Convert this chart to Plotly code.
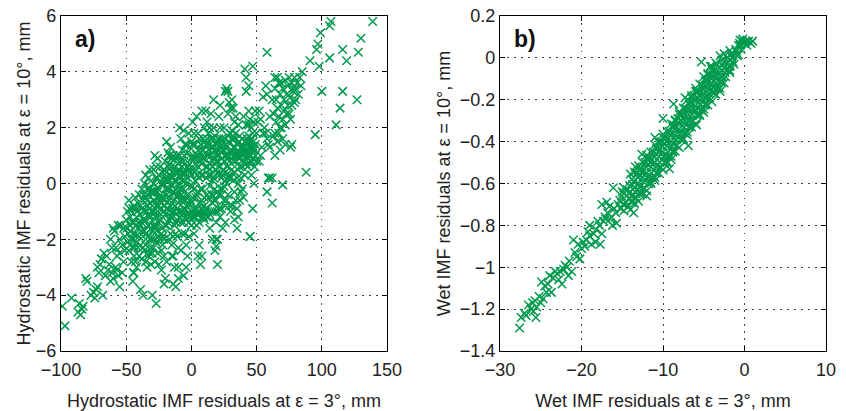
import plotly.graph_objects as go

# ---------------- data ----------------
hydro_pts = [
    # far lower-left tail
    (-99, -4.4), (-97, -5.1), (-92, -4.1), (-87, -4.6), (-85, -4.7), (-86, -4.3), (-83, -4.4),
    (-81, -3.4), (-80, -3.5), (-84, -4.5), (-77, -4.0), (-75, -3.9), (-73, -3.8), (-72, -3.7),
    (-71, -3.2), (-70, -2.9), (-74, -4.1), (-72, -3.0),
    (-68, -4.0), (-67, -2.5), (-65, -2.6), (-64, -3.1), (-63, -2.9), (-62, -3.5), (-61, -2.3),
    (-60, -3.4), (-60, -1.6), (-62, -2.0), (-66, -3.3), (-69, -2.7), (-61, -3.2),
    (-58, -3.0), (-57, -3.1), (-56, -3.3), (-55, -3.7), (-57, -2.6), (-55, -2.5), (-53, -2.2),
    (-52, -1.6), (-51, -1.9), (-54, -1.5), (-59, -1.7), (-56, -1.5), (-58, -2.3), (-52, -2.8),
    (-50, -1.3), (-53, -3.2), (-55, -2.0), (-51, -2.4),
    # column -50..-40
    (-49, -1.0), (-48, -0.6), (-47, -1.5), (-46, -2.0), (-45, -2.3), (-44, -2.6), (-43, -1.8),
    (-42, -1.2), (-41, -0.7), (-40, -0.4), (-48, -2.4), (-46, -2.8), (-44, -3.2), (-42, -2.1),
    (-41, -1.6), (-47, -1.2), (-45, -0.9), (-43, -0.5), (-40, -1.9), (-44, -1.4), (-49, -2.1),
    (-40, -2.6), (-42, -3.0), (-45, -3.5),
    (-49.5, -1.6), (-48.5, -1.8), (-47.5, -0.9), (-46.5, -1.7), (-45.5, -1.4), (-44.5, -2.0),
    (-43.5, -2.3), (-42.5, -1.5), (-41.5, -1.0), (-40.5, -1.4), (-43, -0.9), (-47, -2.2),
    (-45, -1.8), (-44, -0.8), (-43, -2.8), (-41, -2.3),
    # column -40..-30
    (-39, -3.8), (-37, -4.0), (-38, -0.2), (-36, 0.0), (-35, -0.5), (-34, -1.0), (-33, -1.5),
    (-32, -2.0), (-31, -2.3), (-30, -0.3), (-39, -0.8), (-38, -1.4), (-37, -1.9), (-36, -2.4),
    (-35, -2.8), (-34, -0.2), (-33, 0.2), (-32, -0.7), (-31, -1.2), (-30, -1.7), (-39, -2.2),
    (-36, -1.0), (-34, -3.0), (-31, -2.9), (-30, -2.5), (-37, -0.6), (-33, -2.6), (-35, 0.3),
    (-39.5, -1.1), (-38.5, -1.7), (-37.5, -2.3), (-36.5, -0.4), (-35.5, -1.3), (-34.5, -1.8),
    (-33.5, -0.8), (-32.5, -1.2), (-31.5, -0.3), (-30.5, -1.0), (-38, -2.7), (-32, -2.5),
    (-36, -1.7), (-34, -0.6), (-44.5, -3.2), (-32, 0.5),
    (-39, -1.5), (-38, -0.9), (-37, -1.3), (-35, -2.2), (-33, -1.9), (-31, -1.6), (-30, -2.0),
    (-34, -0.4), (-33, -1.1), (-32, -0.2), (-31, 0.1), (-30, -0.8),
    # column -30..-20
    (-30, -4.0), (-27, -4.3), (-29, 0.5), (-28, 1.0), (-27, 0.2), (-26, -0.3), (-25, -0.8),
    (-24, -1.3), (-23, -1.8), (-22, -2.2), (-21, -2.6), (-20, -3.4), (-21, -3.6), (-29, -1.0),
    (-28, -1.6), (-27, -2.1), (-26, -2.5), (-25, -2.9), (-24, 0.6), (-23, 0.0), (-22, -0.5),
    (-21, -1.0), (-20, -1.5), (-29, -2.3), (-26, 0.9), (-24, -2.0), (-22, 0.4), (-20, -0.2),
    (-28, -2.8), (-23, -3.1), (-25, 0.3), (-21, -2.0),
    (-29.5, -0.3), (-28.5, -0.6), (-27.5, -1.2), (-26.5, -1.7), (-25.5, -0.2), (-24.5, -0.6),
    (-23.5, -1.1), (-22.5, -1.6), (-21.5, 0.0), (-20.5, -0.8), (-27, 0.6), (-23, -2.4),
    (-25, -1.4), (-29, -1.5),
    (-29, -0.6), (-28, -2.0), (-27, -0.8), (-26, -1.1), (-25, -1.9), (-24, -0.9), (-23, -0.5),
    (-22, -1.9), (-21, 0.5), (-20, -1.1),
    (-29, 0.0), (-28, -0.3), (-27, -1.5), (-26, 0.2), (-25, -0.5), (-24, 0.1), (-23, -0.7),
    (-22, 0.0), (-21, -0.6), (-20, 0.2),
    # column -20..-10
    (-19, 1.5), (-18, 1.1), (-17, 0.7), (-16, 0.3), (-15, -0.1), (-14, -0.6), (-13, -1.0),
    (-12, -1.4), (-11, -1.9), (-10, -2.3), (-19, -0.4), (-18, -0.9), (-17, -1.3), (-16, -1.8),
    (-15, -2.2), (-14, -2.6), (-13, -3.0), (-12, 0.9), (-11, 0.4), (-10, 0.0), (-19, -2.8),
    (-14, -3.6), (-10, -3.4), (-12, -3.7), (-18, 0.2), (-16, 1.3), (-13, 0.6), (-11, -0.5),
    (-15, -1.2), (-20, 0.8), (-17, -2.0), (-10, -1.0),
    (-19.5, 0.4), (-18.5, -0.2), (-17.5, 0.1), (-16.5, -0.5), (-15.5, 0.6), (-14.5, 0.2),
    (-13.5, -0.3), (-12.5, -0.8), (-11.5, 0.1), (-10.5, -0.4), (-17, 1.0), (-14, 1.0),
    (-12, -1.8), (-19, -1.5), (-15, -2.6), (-11, -1.3),
    (-19, 0.1), (-18, -1.4), (-17, -0.6), (-16, -1.2), (-15, 0.9), (-14, -1.9), (-13, -1.5),
    (-12, 0.4), (-11, 1.0), (-10, 0.7),
    (-19, -0.9), (-18, 0.6), (-17, -0.2), (-16, -0.8), (-15, 0.4), (-14, -0.3), (-13, 0.1),
    (-12, -0.2), (-11, -0.9), (-10, 0.4), (-14, -1.0), (-12, -1.1), (-10, -0.7),
    # column -10..0
    (-9, 2.0), (-8, 1.6), (-7, 1.2), (-6, 0.8), (-5, 0.4), (-4, 0.0), (-3, -0.4), (-2, -0.8),
    (-1, -1.2), (0, -1.5), (-9, -0.2), (-8, -0.6), (-7, -1.0), (-6, -1.4), (-5, -1.8),
    (-4, -2.2), (-3, -2.6), (-2, 1.8), (-1, 1.3), (0, 0.9), (-9, 1.0), (-7, 0.1), (-5, -0.9),
    (-3, 0.6), (-1, -0.1), (-10, -3.0), (-6, -3.3), (-4, -3.0), (-8, -2.4), (-2, -1.9),
    (0, 0.3), (-6, 1.9),
    (-9.5, 0.5), (-8.5, 0.2), (-7.5, -0.4), (-6.5, 0.4), (-5.5, 1.0), (-4.5, -0.6),
    (-3.5, -1.1), (-2.5, 0.2), (-1.5, 0.7), (-0.5, -0.6), (-8, -1.4), (-4, 1.4), (-2, -1.4),
    (-6, -0.2), (0, -1.0), (-7, -1.8),
    (-9, -1.2), (-8, 0.8), (-7, -0.5), (-6, 0.3), (-5, 1.4), (-4, -1.3), (-3, 1.1), (-2, 0.5),
    (-1, 0.4), (0, 1.5),
    (-9, 0.3), (-8, -0.2), (-7, 0.6), (-6, -0.6), (-5, 0.1), (-8, -1.0), (-6, -1.1),
    (-4, -0.8), (-2, -1.1), (0, -0.7),
    # column 0..10
    (1, 2.2), (2, 1.8), (3, 1.4), (4, 1.0), (5, 0.6), (6, 0.2), (7, -0.2), (8, -0.6),
    (9, -1.0), (10, -1.3), (1, -0.5), (2, -0.9), (3, -1.2), (4, -1.5), (5, -1.1), (6, -0.7),
    (7, 0.8), (8, 1.2), (9, 1.6), (10, 2.0), (1, 0.5), (3, 0.1), (5, -0.3), (9, 0.3),
    (2, -1.8), (6, -2.2), (8, -2.6), (5, -2.6), (7, -2.9), (4, 2.4), (8, 2.6), (10, -0.5),
    (0.5, 1.4), (1.5, 1.0), (2.5, 0.4), (3.5, -0.5), (4.5, 0.3), (5.5, 1.2), (6.5, -1.0),
    (7.5, 0.3), (8.5, -0.2), (9.5, -1.2), (2, -0.2), (6, 1.6), (10, 0.9), (4, -0.9),
    (8, 0.7), (1, -1.2),
    (1, -0.1), (2, 0.9), (3, 0.7), (4, -0.4), (5, 1.8), (6, -1.4), (7, 1.4), (8, -1.2),
    (9, 0.9), (10, -0.8),
    (5, 1.0), (7, 1.1), (9, 1.2), (2, -1.2), (4, -1.1), (6, -1.1), (8, -0.9), (10, -1.0),
    # column 10..20
    (11, 2.6), (12, 2.2), (13, 1.8), (14, 1.4), (15, 1.0), (16, 0.6), (17, 0.2), (18, -0.2),
    (19, -0.6), (20, -1.0), (11, -0.9), (12, -1.2), (13, -0.5), (14, -0.1), (15, 0.3),
    (16, 1.6), (17, 2.0), (18, 1.2), (19, 0.8), (20, 0.4), (12, 1.0), (14, -1.6), (16, -2.0),
    (18, -2.4), (19, -2.0), (20, -2.9), (17, 3.0), (15, 2.5), (13, 0.3), (20, 1.5),
    (10.5, 1.5), (11.5, 0.2), (12.5, 0.6), (13.5, 1.2), (14.5, 0.7), (15.5, -0.4),
    (16.5, 0.1), (17.5, -0.6), (18.5, 0.5), (19.5, 1.1), (12, -0.4), (14, 2.0), (16, -1.0),
    (18, 1.7), (11, 1.1), (20, -0.3), (20, -2.0), (19, -2.25),
    (11, 0.6), (12, 1.6), (13, -1.2), (14, 0.5), (15, 1.6), (16, -0.4), (17, 1.3), (18, 0.7),
    (19, -1.4), (20, 1.0),
    (11, 1.4), (13, 1.0), (15, 1.3), (17, 0.9), (19, 1.4), (12, -0.9), (14, -1.1), (16, -0.7),
    (18, -1.0),
    # column 20..30
    (27, 3.4), (26, 3.3), (28, 3.3), (29, 2.9), (30, 2.7), (28, 2.5), (21, 2.4), (22, 2.0),
    (23, 1.6), (24, 1.2), (25, 0.8), (26, 0.4), (27, 0.0), (28, -0.4), (29, -0.8), (30, -1.0),
    (21, 1.0), (22, 0.6), (23, 0.2), (24, -0.2), (25, -0.6), (22, -1.2), (24, -1.6),
    (26, -1.4), (21, -0.4), (23, -0.9), (29, 1.5), (30, 1.8), (27, 1.0), (25, 2.0), (22, 2.8),
    (20.5, 0.8), (21.5, 0.3), (22.5, 1.3), (23.5, 0.9), (24.5, 0.5), (25.5, 0.1), (26.5, 1.4),
    (27.5, 0.6), (28.5, 0.2), (29.5, 1.1), (23, -0.4), (26, -0.8), (28, 1.7), (21, -0.9),
    (25, 1.6),
    (21, 1.6), (22, -0.2), (23, 1.1), (24, 0.3), (25, -0.1), (26, 1.0), (27, -0.6), (28, 0.9),
    (29, 0.3),
    (21, 1.2), (23, 1.4), (25, 1.2), (27, 1.3), (29, 0.8),
    # column 30..40
    (31, 3.0), (32, 2.7), (33, 2.2), (34, 1.8), (35, 1.4), (36, 1.0), (37, 0.6), (38, 0.2),
    (39, -0.2), (40, -0.5), (31, 0.5), (32, 0.1), (33, -0.3), (34, -0.6), (35, -0.9),
    (36, -1.2), (33, -1.3), (35, -1.6), (37, -0.6), (32, 1.3), (38, 1.3), (39, 1.6), (40, 1.1),
    (34, 0.8), (36, 2.1), (31, -0.8), (30, 0.2),
    (30.5, 1.2), (31.5, 1.6), (32.5, 0.8), (33.5, 1.3), (34.5, 1.0), (35.5, 0.5), (36.5, 1.5),
    (37.5, 1.1), (38.5, 0.8), (39.5, 1.3), (33, 0.4), (36, 0.0), (38, -0.3), (34, 2.4),
    (31, 1.9), (33, 1.0), (35, 0.2), (37, 1.7), (39, 0.6),
    (31, 1.1), (33, 1.6), (35, 1.1), (37, 0.9), (39, 1.0),
    # column 40..50
    (41, 4.1), (47, 4.2), (42, 3.8), (44, 3.5), (42, 3.3), (41, 1.5), (42, 1.2), (43, 1.4),
    (44, 1.0), (45, 1.3), (46, 1.6), (47, 0.9), (48, 1.2), (49, 1.0), (50, 0.8), (43, 0.6),
    (45, 0.7), (44, 1.7), (46, 2.0), (48, 2.2), (49, 2.6), (41, 0.3), (47, -0.9), (45, -1.9),
    (48, 0.0), (50, 1.8), (42, 2.1), (41, 0.8), (44, 2.6), (40, 2.4), (46, 0.3),
    (40.5, 1.3), (41.5, 1.1), (42.5, 1.5), (43.5, 0.9), (44.5, 1.3), (45.5, 1.0), (46.5, 1.2),
    (47.5, 1.5), (48.5, 0.6), (42, 0.7), (47, 1.8), (45, 2.3), (43, 1.1), (46, 0.8),
    (41, 1.2), (43, 1.6), (45, 1.5), (47, 1.3), (49, 1.4),
    # column 50..60
    (52, 2.6), (53, 2.3), (55, 3.1), (56, 2.0), (57, 1.8), (58, 1.6), (54, 1.3), (53, 1.0),
    (59, 1.4), (60, 2.4), (58, 3.2), (57, 3.5), (58, 4.7), (59, 0.2), (58, -0.3), (52, 0.8),
    (55, 1.8), (51, 2.2), (60, 0.2), (62, -0.7),
    # upper-right cluster
    (62, 3.0), (63, 2.5), (64, 3.4), (65, 2.2), (65, 3.0), (66, 2.7), (67, 3.6), (67, 2.4),
    (68, 2.0), (68, 3.2), (69, 2.8), (70, 2.3), (70, 3.4), (71, 3.0), (71, 2.6), (72, 3.7),
    (72, 2.1), (73, 3.2), (74, 2.8), (74, 3.5), (75, 2.5), (75, 3.8), (76, 3.1), (77, 3.6),
    (77, 2.8), (78, 3.3), (79, 3.8), (80, 3.4), (80, 3.0), (81, 3.6), (82, 3.2), (83, 3.8),
    (84, 3.5), (85, 4.0), (66, 3.8), (69, 2.0), (73, 2.5), (64, 1.8), (66, 1.5), (68, 1.2),
    (70, 1.6), (72, 1.4), (76, 1.3), (77, 1.4), (64, 1.0), (70, -0.05), (78, 3.4), (69, 3.6),
    (67, 1.8), (60, 1.3), (76, 2.3), (63, 1.7), (79, 2.9), (62, 0.2),
    # right-hand outliers
    (139, 5.8), (107, 5.8), (106, 5.65), (99, 5.4), (97, 5.0), (96, 4.8), (130, 5.2),
    (116, 4.8), (119, 4.4), (128, 4.7), (106, 4.5), (91, 4.4), (98, 4.2), (116, 3.3),
    (127, 3.0), (100, 3.3), (114, 2.7), (111, 2.1), (95, 1.75), (88, 0.4), (44, 2.1),
    (45, -1.9), (60, 0.2), (64, 3.8),
]

wet_pts = [
    # lower tail
    (-27.6, -1.29), (-27.4, -1.24), (-27.0, -1.22), (-26.8, -1.23), (-26.5, -1.18),
    (-26.2, -1.20), (-26.0, -1.17), (-25.9, -1.21), (-25.7, -1.16), (-25.6, -1.24),
    (-25.5, -1.19), (-25.2, -1.14), (-25.0, -1.17), (-24.9, -1.07), (-24.5, -1.09),
    (-24.3, -1.12), (-24.1, -1.08), (-23.7, -1.12), (-23.5, -1.05), (-23.2, -1.02),
    (-23.0, -1.03), (-22.8, -1.06), (-22.4, -1.08), (-22.2, -1.01), (-22.0, -0.99),
    (-21.8, -1.00), (-21.5, -0.97), (-21.2, -1.02), (-21.0, -0.87), (-20.8, -0.93),
    (-20.6, -0.95), (-20.2, -0.96), (-20.0, -0.91), (-19.8, -0.88), (-19.6, -0.90),
    (-19.4, -0.87), (-19.2, -0.83), (-19.0, -0.85), (-18.8, -0.89), (-18.5, -0.84),
    (-18.2, -0.82), (-18.0, -0.78), (-17.8, -0.80), (-17.7, -0.89), (-17.5, -0.84),
    (-17.3, -0.78), (-17.1, -0.76), (-17.5, -0.70), (-17.0, -0.77), (-16.8, -0.74),
    (-16.6, -0.71), (-16.5, -0.77), (-16.3, -0.76), (-16.1, -0.62), (-16.0, -0.72),
    (-15.8, -0.74), (-15.7, -0.79), (-15.5, -0.70), (-15.3, -0.68), (-15.2, -0.72),
    (-24.7, -1.15), (-23.9, -1.04), (-22.6, -1.02), (-21.6, -1.04), (-20.4, -0.89),
    (-19.0, -0.80), (-18.3, -0.88), (-16.9, -0.69), (-16.2, -0.80),
    # dense band
    (-15.1, -0.66), (-14.9, -0.70), (-15.0, -0.64),
    (-14.6, -0.69), (-14.4, -0.63), (-14.5, -0.66), (-14.3, -0.71),
    (-14.1, -0.61), (-13.9, -0.66), (-14.0, -0.64), (-13.8, -0.68),
    (-13.6, -0.59), (-13.4, -0.64), (-13.5, -0.62), (-13.3, -0.67), (-13.6, -0.74),
    (-13.1, -0.57), (-12.9, -0.62), (-13.0, -0.60), (-12.8, -0.64), (-13.2, -0.55),
    (-12.6, -0.55), (-12.4, -0.59), (-12.5, -0.57), (-12.3, -0.62), (-12.7, -0.53),
    (-12.1, -0.52), (-11.9, -0.57), (-12.0, -0.55), (-11.8, -0.60), (-12.2, -0.50),
    (-11.6, -0.50), (-11.4, -0.55), (-11.5, -0.52), (-11.3, -0.57), (-11.7, -0.48),
    (-11.1, -0.47), (-10.9, -0.52), (-11.0, -0.50), (-10.8, -0.55), (-11.2, -0.45),
    (-10.6, -0.45), (-10.4, -0.50), (-10.5, -0.47), (-10.3, -0.52), (-10.7, -0.43),
    (-10.1, -0.42), (-9.9, -0.47), (-10.0, -0.45), (-9.8, -0.50), (-10.2, -0.40),
    (-9.6, -0.40), (-9.4, -0.45), (-9.5, -0.42), (-9.3, -0.47), (-9.7, -0.38),
    (-9.1, -0.37), (-8.9, -0.42), (-9.0, -0.40), (-8.8, -0.45), (-9.2, -0.35),
    (-8.6, -0.34), (-8.4, -0.39), (-8.5, -0.37), (-8.3, -0.42), (-8.7, -0.32),
    (-8.1, -0.31), (-7.9, -0.36), (-8.0, -0.34), (-7.8, -0.39), (-8.2, -0.29),
    (-7.6, -0.29), (-7.4, -0.33), (-7.5, -0.31), (-7.3, -0.36), (-7.7, -0.27),
    (-7.1, -0.26), (-6.9, -0.30), (-7.0, -0.28), (-6.8, -0.33), (-7.2, -0.24),
    (-6.6, -0.23), (-6.4, -0.27), (-6.5, -0.25), (-6.3, -0.30), (-6.7, -0.21),
    (-6.1, -0.20), (-5.9, -0.25), (-6.0, -0.23), (-5.8, -0.27), (-6.2, -0.18),
    (-5.6, -0.18), (-5.4, -0.22), (-5.5, -0.20), (-5.3, -0.25), (-5.7, -0.16),
    (-5.1, -0.15), (-4.9, -0.19), (-5.0, -0.17), (-4.8, -0.22), (-5.2, -0.13),
    (-4.6, -0.13), (-4.4, -0.17), (-4.5, -0.15), (-4.3, -0.19), (-4.7, -0.11),
    (-4.1, -0.10), (-3.9, -0.14), (-4.0, -0.12), (-3.8, -0.16), (-4.2, -0.08),
    (-3.6, -0.08), (-3.4, -0.12), (-3.5, -0.10), (-3.3, -0.14),
    (-3.1, -0.05), (-2.9, -0.09), (-3.0, -0.07), (-2.8, -0.11),
    (-2.6, -0.03), (-2.4, -0.07), (-2.5, -0.05), (-2.3, -0.09),
    (-2.1, 0.00), (-1.9, -0.04), (-2.0, -0.02), (-1.8, -0.06),
    (-1.6, 0.02), (-1.4, -0.02), (-1.5, 0.00), (-1.3, -0.03),
    (-1.1, 0.04), (-0.9, 0.01), (-1.0, 0.03),
    (-0.6, 0.07), (-0.4, 0.04), (-0.5, 0.06), (-0.3, 0.08),
    (0.0, 0.07), (0.2, 0.08), (0.5, 0.08), (0.8, 0.07), (-0.2, 0.09), (0.3, 0.06),
    (1.0, 0.08), (-0.55, 0.085),
    # quarter-step fill
    (-14.75, -0.645), (-14.75, -0.70), (-13.75, -0.605), (-13.75, -0.66),
    (-12.75, -0.56), (-12.75, -0.615), (-11.75, -0.51), (-11.75, -0.565),
    (-10.75, -0.46), (-10.75, -0.515), (-9.75, -0.41), (-9.75, -0.465),
    (-8.75, -0.36), (-8.75, -0.41), (-7.75, -0.30), (-7.75, -0.355),
    (-6.75, -0.245), (-6.75, -0.30), (-5.75, -0.19), (-5.75, -0.24),
    (-4.75, -0.135), (-4.75, -0.19), (-3.75, -0.085), (-3.75, -0.14),
    (-2.75, -0.035), (-2.75, -0.09), (-1.75, 0.015), (-1.75, -0.04),
    (-0.75, 0.06), (-0.75, 0.015),
    # wider edges of band
    (-14.8, -0.62), (-14.8, -0.73), (-13.8, -0.58), (-13.8, -0.69), (-12.8, -0.535),
    (-12.8, -0.65), (-11.8, -0.485), (-11.8, -0.60), (-10.8, -0.435), (-10.8, -0.55),
    (-9.8, -0.385), (-9.8, -0.50), (-8.8, -0.33), (-8.8, -0.445), (-7.8, -0.275),
    (-7.8, -0.39), (-6.8, -0.22), (-6.8, -0.33), (-5.8, -0.16), (-5.8, -0.275),
    (-4.8, -0.11), (-4.8, -0.225), (-3.8, -0.06), (-3.8, -0.17), (-2.8, -0.01),
    (-2.8, -0.12), (-1.8, 0.035), (-1.8, -0.07),
    (-12.0, -0.48), (-11.0, -0.57), (-10.0, -0.38), (-9.0, -0.47), (-8.0, -0.27),
    (-7.0, -0.355), (-6.0, -0.16), (-5.0, -0.245), (-4.0, -0.055), (-3.0, -0.145),
    (-11.5, -0.595), (-10.5, -0.405), (-9.5, -0.495), (-8.5, -0.30), (-7.5, -0.385),
    (-6.5, -0.19), (-5.5, -0.27), (-4.5, -0.08),
    # outermost edge of the dense band
    (-14.0, -0.555), (-14.0, -0.725), (-13.0, -0.515), (-13.0, -0.685),
    (-12.0, -0.465), (-12.0, -0.635), (-11.0, -0.415), (-11.0, -0.585),
    (-10.0, -0.365), (-10.0, -0.535), (-9.0, -0.315), (-9.0, -0.485),
    (-8.0, -0.258), (-8.0, -0.428), (-7.0, -0.20), (-7.0, -0.37),
    (-6.0, -0.145), (-6.0, -0.315), (-5.0, -0.09), (-5.0, -0.26),
    (-4.0, -0.04), (-4.0, -0.21), (-3.0, 0.01), (-3.0, -0.16),
    (-13.5, -0.545), (-13.5, -0.695), (-12.5, -0.50), (-12.5, -0.65),
    (-11.5, -0.45), (-11.5, -0.60), (-10.5, -0.40), (-10.5, -0.55),
    (-9.5, -0.35), (-9.5, -0.50), (-8.5, -0.296), (-8.5, -0.446),
    (-7.5, -0.24), (-7.5, -0.39), (-6.5, -0.18), (-6.5, -0.33),
    (-5.5, -0.125), (-5.5, -0.275), (-4.5, -0.075), (-4.5, -0.225),
    (-3.5, -0.025), (-3.5, -0.175), (-2.5, 0.02), (-2.5, -0.12),
    # scattered outliers
    (-5.3, -0.02), (-8.7, -0.22), (-10.0, -0.29), (-12.6, -0.46), (-13.4, -0.52),
    (-6.9, -0.42), (-5.9, -0.32), (-4.2, -0.04), (-7.3, -0.19), (-11.0, -0.38),
    (-12.0, -0.66), (-9.2, -0.53),
]

hydro_x = [p[0] for p in hydro_pts]
hydro_y = [p[1] for p in hydro_pts]
wet_x = [p[0] for p in wet_pts]
wet_y = [p[1] for p in wet_pts]

a_xticks = [-100, -50, 0, 50, 100, 150]
a_yticks = [-6, -4, -2, 0, 2, 4, 6]
b_xticks = [-30, -20, -10, 0, 10]
b_yticks = [-1.4, -1.2, -1.0, -0.8, -0.6, -0.4, -0.2, 0, 0.2]
b_yticklabels = ["\u22121.4", "\u22121.2", "\u22121", "\u22120.8", "\u22120.6",
                 "\u22120.4", "\u22120.2", "0", "0.2"]

GREEN = "#009a4e"
W, H = 846, 411
FONT = "Liberation Sans, Arial, Helvetica, sans-serif"

fig = go.Figure()
mk = dict(symbol="x-thin", size=8.5, color=GREEN, line=dict(width=1.5, color=GREEN))
fig.add_trace(go.Scatter(x=hydro_x, y=hydro_y, mode="markers", marker=mk,
                         xaxis="x", yaxis="y", showlegend=False))
fig.add_trace(go.Scatter(x=wet_x, y=wet_y, mode="markers", marker=mk,
                         xaxis="x2", yaxis="y2", showlegend=False))

common = dict(showline=True, linecolor="black", linewidth=1.3, mirror="ticks",
              ticks="inside", ticklen=5, tickwidth=1, tickcolor="black",
              showgrid=True, gridcolor="#444", gridwidth=1, griddash="1.5px,5.5px",
              zeroline=False, tickfont=dict(family=FONT, size=18, color="#222"),
              automargin=False)
tfont = dict(family=FONT, size=18, color="#222")

fig.update_layout(
    width=W, height=H, margin=dict(l=0, r=0, t=0, b=0),
    paper_bgcolor="white", plot_bgcolor="white",
    xaxis=dict(domain=[61 / W, 387 / W], range=[-100, 150], tickvals=a_xticks,
               title=dict(text="Hydrostatic IMF residuals at \u03b5 = 3\u00b0, mm",
                          font=tfont, standoff=16),
               ticklabelstandoff=2, anchor="y", **common),
    yaxis=dict(domain=[60 / H, 395 / H], range=[-6, 6], tickvals=a_yticks,
               title=dict(text="Hydrostatic IMF residuals at \u03b5 = 10\u00b0, mm",
                          font=tfont, standoff=0),
               anchor="x", **common),
    xaxis2=dict(domain=[500 / W, 826 / W], range=[-30, 10], tickvals=b_xticks,
                title=dict(text="Wet IMF residuals at \u03b5 = 3\u00b0, mm",
                           font=tfont, standoff=16),
                ticklabelstandoff=2, anchor="y2", **common),
    yaxis2=dict(domain=[60 / H, 395 / H], range=[-1.4, 0.2], tickvals=b_yticks,
                ticktext=b_yticklabels,
                title=dict(text="Wet IMF residuals at \u03b5 = 10\u00b0, mm",
                           font=tfont, standoff=4),
                anchor="x2", **common),
    annotations=[
        dict(text="<b>a)</b>", x=73 / W, y=1 - 39 / H, xref="paper", yref="paper",
             xanchor="left", yanchor="middle", showarrow=False,
             font=dict(family=FONT, size=23, color="#111")),
        dict(text="<b>b)</b>", x=512 / W, y=1 - 39 / H, xref="paper", yref="paper",
             xanchor="left", yanchor="middle", showarrow=False,
             font=dict(family=FONT, size=23, color="#111")),
    ],
)

fig.write_html("out.html")
